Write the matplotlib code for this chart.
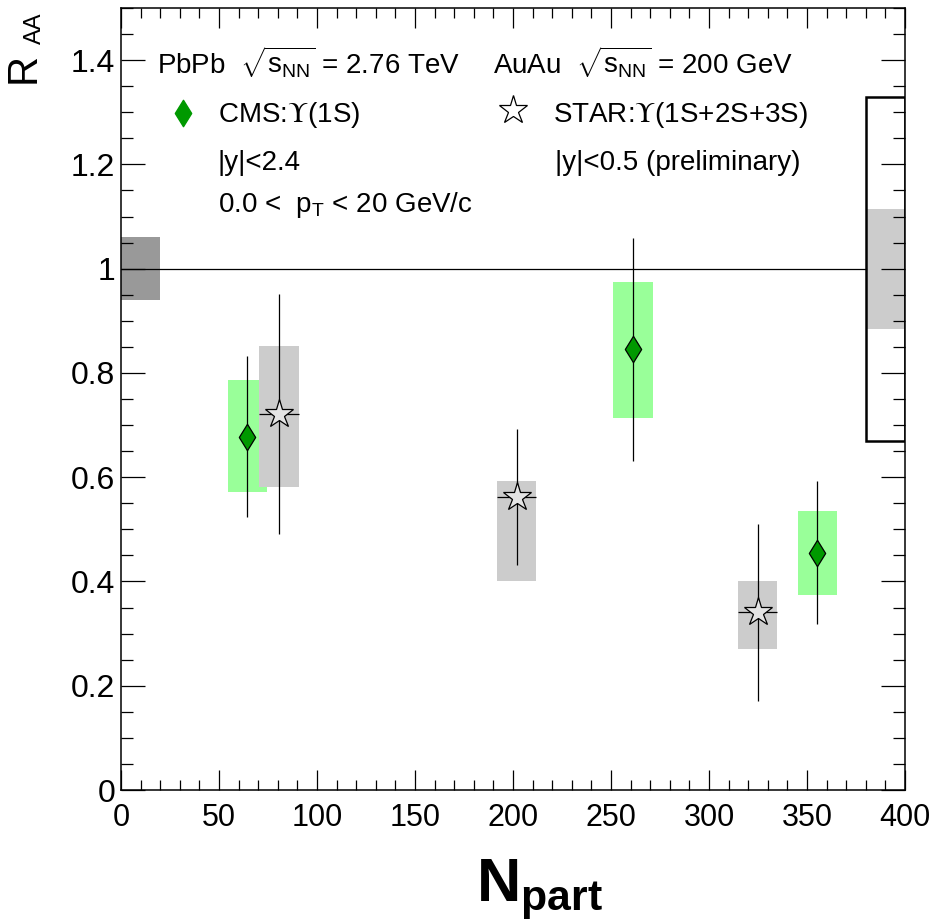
import matplotlib
matplotlib.use("Agg")
import matplotlib.pyplot as plt
from matplotlib.patches import Rectangle
from matplotlib.path import Path
from matplotlib.ticker import MultipleLocator, FixedLocator, FixedFormatter

plt.rcParams['font.family'] = ['Liberation Sans', 'DejaVu Sans']
plt.rcParams['mathtext.fontset'] = 'custom'
plt.rcParams['mathtext.rm'] = 'Liberation Sans'
plt.rcParams['mathtext.it'] = 'Liberation Sans:italic'
plt.rcParams['mathtext.bf'] = 'Liberation Sans:bold'
plt.rcParams['mathtext.sf'] = 'Liberation Sans'

# ---------------- data ----------------
cms_npart = [64.5, 261.2, 355.2]
cms_raa = [0.678, 0.845, 0.455]
cms_stat = [0.155, 0.213, 0.137]
cms_syst_lo = [0.107, 0.132, 0.080]
cms_syst_hi = [0.109, 0.130, 0.080]

star_npart = [80.6, 201.9, 324.8]
star_raa = [0.722, 0.562, 0.341]
star_stat = [0.23, 0.13, 0.17]
star_syst_lo = [0.141, 0.161, 0.071]
star_syst_hi = [0.130, 0.030, 0.059]

box_halfwidth = 10.0
npart_err = 10.0

cms_global = 0.06      # normalisation uncertainty (box at Npart ~ 0-20)
star_global_total = 0.33
star_global_gray = 0.115

xticks = [0, 50, 100, 150, 200, 250, 300, 350, 400]
yticks = [0, 0.2, 0.4, 0.6, 0.8, 1.0, 1.2, 1.4]
yticklabels = ['0', '0.2', '0.4', '0.6', '0.8', '1', '1.2', '1.4']

# ---------------- figure ----------------
W, H = 932, 924
fig = plt.figure(figsize=(W / 100, H / 100), dpi=100)
L, R_, T, B = 121, 905, 8, 790
ax = fig.add_axes([L / W, 1 - B / H, (R_ - L) / W, (B - T) / H])
ax.set_xlim(0, 400)
ax.set_ylim(0, 1.5)

green_box = '#99ff99'
green_mk = '#009900'
gray_box = '#cccccc'
dark_box = '#999999'

# global boxes
ax.add_patch(Rectangle((0, 1 - cms_global), 20, 2 * cms_global, facecolor=dark_box,
                       edgecolor='none', zorder=1))
ax.add_patch(Rectangle((380, 1 - star_global_gray), 20, 2 * star_global_gray,
                       facecolor=gray_box, edgecolor='none', zorder=1))
ax.add_patch(Rectangle((380, 1 - star_global_total), 20, 2 * star_global_total,
                       facecolor='none', edgecolor='black', linewidth=1.8, zorder=5))

# line at unity
ax.plot([0, 380], [1, 1], color='black', linewidth=0.9, zorder=2)

# systematic boxes
for x, y, lo, hi in zip(cms_npart, cms_raa, cms_syst_lo, cms_syst_hi):
    ax.add_patch(Rectangle((x - box_halfwidth, y - lo), 2 * box_halfwidth, lo + hi,
                           facecolor=green_box, edgecolor='none', zorder=1))
for x, y, lo, hi in zip(star_npart, star_raa, star_syst_lo, star_syst_hi):
    ax.add_patch(Rectangle((x - box_halfwidth, y - lo), 2 * box_halfwidth, lo + hi,
                           facecolor=gray_box, edgecolor='none', zorder=1))

# stat errors
ax.errorbar(cms_npart, cms_raa, yerr=cms_stat, fmt='none', ecolor='black',
            elinewidth=0.9, capsize=0, zorder=3)
ax.errorbar(star_npart, star_raa, yerr=star_stat, xerr=npart_err, fmt='none',
            ecolor='black', elinewidth=0.9, capsize=0, zorder=3)

diamond = Path([(0, 1), (0.62, 0), (0, -1), (-0.62, 0), (0, 1)],
               [Path.MOVETO, Path.LINETO, Path.LINETO, Path.LINETO, Path.CLOSEPOLY])

ax.plot(cms_npart, cms_raa, linestyle='none', marker=diamond, markersize=19,
        markerfacecolor=green_mk, markeredgecolor='black', markeredgewidth=0.9, zorder=4)
ax.plot(star_npart, star_raa, linestyle='none', marker='*', markersize=21,
        markerfacecolor='#e4e4e4', markeredgecolor='black', markeredgewidth=0.9, zorder=4)

# ticks
ax.xaxis.set_major_locator(FixedLocator(xticks))
ax.xaxis.set_minor_locator(MultipleLocator(10))
ax.yaxis.set_major_locator(FixedLocator(yticks))
ax.yaxis.set_major_formatter(FixedFormatter(yticklabels))
ax.yaxis.set_minor_locator(MultipleLocator(0.05))
ax.tick_params(axis='both', which='both', direction='in', top=True, right=True,
               width=0.9, colors='black')
ax.tick_params(axis='y', which='major', length=17, pad=4, labelsize=23)
ax.tick_params(axis='y', which='minor', length=8.5)
ax.tick_params(axis='x', which='major', length=14.5, pad=9, labelsize=22)
ax.tick_params(axis='x', which='minor', length=7.5)
for s in ax.spines.values():
    s.set_linewidth(1.1)


def ft(x, y, s, **kw):
    fig.text(x / W, 1 - y / H, s, va='baseline', ha='left', **kw)


fs = 20
ft(157, 73, r'PbPb  $\sqrt{\mathrm{s}_{\mathrm{NN}}}$ = 2.76 TeV', fontsize=fs)
ft(493, 73, r'AuAu  $\sqrt{\mathrm{s}_{\mathrm{NN}}}$ = 200 GeV', fontsize=fs)
ft(218, 122, r'CMS:$\Upsilon$(1S)', fontsize=fs, math_fontfamily='stix')
ft(553, 122, r'STAR:$\Upsilon$(1S+2S+3S)', fontsize=fs, math_fontfamily='stix')
ft(218, 170, '|y|<2.4', fontsize=fs)
ft(555, 170, '|y|<0.5 (preliminary)', fontsize=fs)
ft(218, 212, r'0.0 <  $\mathrm{p}_{\mathrm{T}}$ < 20 GeV/c', fontsize=fs)

# legend markers
ax.plot([0.079], [0.866], transform=ax.transAxes, linestyle='none', marker=diamond,
        markersize=19, markerfacecolor=green_mk, markeredgecolor=green_mk, clip_on=False)
ax.plot([0.5], [0.8696], transform=ax.transAxes, linestyle='none', marker='*',
        markersize=21, markerfacecolor='white', markeredgecolor='black',
        markeredgewidth=0.9, clip_on=False)

# axis titles
ft(476, 901, r'$\mathbf{N}_{\mathbf{part}}$', fontsize=44)
fig.text(44 / W, 1 - 83 / H, 'R', rotation=90, fontsize=30, ha='right', va='bottom')
fig.text(46 / W, 1 - 44 / H, 'AA', rotation=90, fontsize=17, ha='right', va='bottom')

fig.savefig('out.png', dpi=100)
